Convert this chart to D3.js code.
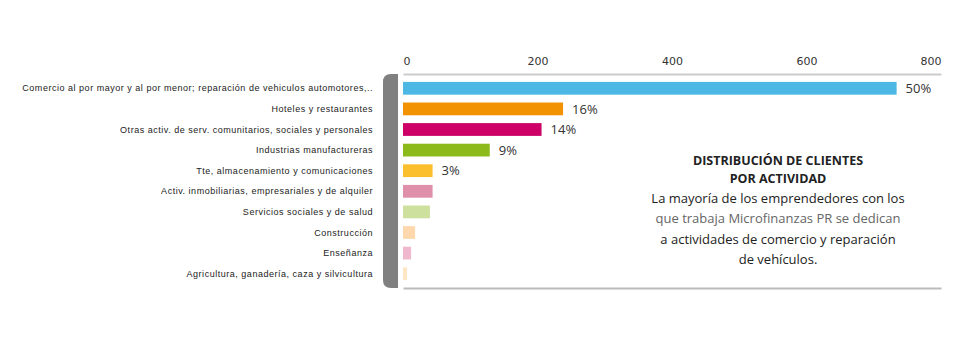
<!DOCTYPE html>
<html><head><meta charset="utf-8">
<script src="https://cdn.jsdelivr.net/npm/d3@7/dist/d3.min.js"></script>
<style>
html,body{margin:0;padding:0;background:#fff;}
svg{display:block;}
</style></head>
<body>
<svg id="chart" width="960" height="339"></svg>
<script>
const categories = [
  "Comercio al por mayor y al por menor; reparación de vehiculos automotores,..",
  "Hoteles y restaurantes",
  "Otras activ. de serv. comunitarios, sociales y personales",
  "Industrias manufactureras",
  "Tte, almacenamiento y comunicaciones",
  "Activ. inmobiliarias, empresariales y de alquiler",
  "Servicios sociales y de salud",
  "Construcción",
  "Enseñanza",
  "Agricultura, ganadería, caza y silvicultura"
];
const values = [734, 238, 206, 129, 44, 44, 40, 18, 12, 6];
const percentLabels = ["50%", "16%", "14%", "9%", "3%", "", "", "", "", ""];
const barColors = ["#4db8e4", "#f39200", "#cc0066", "#8cba1a", "#fbbf2d", "#e08fab", "#cde09d", "#fed8ac", "#f0b8cc", "#fde6c4"];
const tickValues = [0, 200, 400, 600, 800];
const titleLines = ["DISTRIBUCIÓN DE CLIENTES", "POR ACTIVIDAD"];
const bodyLines = [
  "La mayoría de los emprendedores con los",
  "que trabaja Microfinanzas PR se dedican",
  "a actividades de comercio y reparación",
  "de vehículos."
];

const svg = d3.select("#chart");
const x = d3.scaleLinear().domain([0, 800]).range([403, 941]);
const y = d3.scaleBand().domain(categories).range([78, 284]).paddingInner(0.38).paddingOuter(0.19);

// grey side bracket
const bx0 = 383, bx1 = 398, by0 = 74, by1 = 288, r = 8;
svg.append("path")
  .attr("d", `M${bx1},${by0} L${bx0 + r},${by0} Q${bx0},${by0} ${bx0},${by0 + r} L${bx0},${by1 - r} Q${bx0},${by1} ${bx0 + r},${by1} L${bx1},${by1} Z`)
  .attr("fill", "#808080");

// top axis
const axTop = svg.append("g").attr("transform", "translate(0,74)")
  .call(d3.axisTop(x).tickValues(tickValues).tickSize(0).tickPadding(9).tickFormat(d3.format("d")));
axTop.select(".domain").attr("stroke", "#cccccc").attr("stroke-width", 2);
axTop.selectAll("text")
  .attr("font-family", "DejaVu Sans, sans-serif").attr("font-size", 11).attr("fill", "#333")
  .attr("text-anchor", (d, i) => i === 0 ? "start" : (i === tickValues.length - 1 ? "end" : "middle"));

// bottom line
const axBot = svg.append("g").attr("transform", "translate(0,288)")
  .call(d3.axisBottom(x).tickValues([]).tickSizeOuter(0));
axBot.select(".domain").attr("stroke", "#bbbbbb").attr("stroke-width", 2);

// bars
svg.append("g").selectAll("rect").data(values).join("rect")
  .attr("x", x(0))
  .attr("y", (d, i) => y(categories[i]))
  .attr("width", d => x(d) - x(0))
  .attr("height", y.bandwidth())
  .attr("fill", (d, i) => barColors[i]);

// category labels
svg.append("g").selectAll("text").data(categories).join("text")
  .attr("x", 373)
  .attr("y", d => y(d) + y.bandwidth() / 2)
  .attr("dy", "0.35em")
  .attr("text-anchor", "end")
  .attr("font-family", "Liberation Sans, Arial, sans-serif")
  .attr("font-size", 9)
  .attr("letter-spacing", 0.52)
  .attr("fill", "#222")
  .text(d => d);

// percentage labels
svg.append("g").selectAll("text").data(values).join("text")
  .attr("x", d => x(d) + 9)
  .attr("y", (d, i) => y(categories[i]) + y.bandwidth() / 2)
  .attr("dy", "0.36em")
  .attr("font-family", "Open Sans, sans-serif")
  .attr("font-size", 13)
  .attr("fill", "#333")
  .text((d, i) => percentLabels[i]);

// annotation
const cx = 778;
svg.append("g").selectAll("text").data(titleLines).join("text")
  .attr("x", cx).attr("y", (d, i) => 165 + i * 17.5)
  .attr("text-anchor", "middle")
  .attr("font-family", "Open Sans, sans-serif").attr("font-weight", "bold").attr("font-size", 12.5)
  .attr("fill", "#222")
  .text(d => d);
svg.append("g").selectAll("text").data(bodyLines).join("text")
  .attr("x", cx).attr("y", (d, i) => 202.5 + i * 20.6)
  .attr("text-anchor", "middle")
  .attr("font-family", "Open Sans, sans-serif").attr("font-size", 13)
  .attr("fill", (d, i) => i === 1 ? "#666" : "#222")
  .text(d => d);
</script>
</body></html>
